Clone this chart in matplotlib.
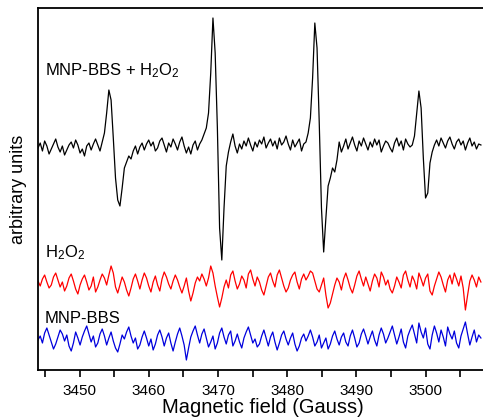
import numpy as np
import matplotlib
matplotlib.use("Agg")
import matplotlib.pyplot as plt
from matplotlib.ticker import MultipleLocator

plt.rcParams['font.family'] = ['Liberation Sans', 'DejaVu Sans']
plt.rcParams['mathtext.fontset'] = 'custom'
plt.rcParams['mathtext.rm'] = 'Liberation Sans'
plt.rcParams['mathtext.it'] = 'Liberation Sans:italic'

# Field axis (Gauss)
field_start = 3444.0
field_step = 0.32

# MNP-BBS + H2O2 (arbitrary units, relative to baseline)
black = [0, 5, -3, 7, 2, -6, -1, 4, 9, 1,
         -4, 2, -7, -2, 3, 6, 0, 8, 3, -5,
         -1, -8, 2, 5, -2, 4, 9, 3, -3, 6,
         15, 35, 58, 48, 10, -30, -52, -58, -40, -20,
         -14, -8, -11, -3, 2, -6, 1, 5, -2, 4,
         8, 2, 6, -3, 0, 7, 10, 3, -4, 5,
         1, 9, 4, -2, 6, 11, 2, -5, 1, -6,
         3, 7, -2, 4, 8, 14, 20, 35, 75, 130,
         95, 20, -80, -112, -60, -18, -4, 6, 14, 2,
         -5, 4, -1, 7, 2, 10, 3, -3, 6, 1,
         8, 4, 11, 0, 5, 9, 2, 7, -1, 10,
         3, 6, 12, 4, -2, 8, 1, 5, 9, -3,
         4, 6, 15, 30, 70, 125, 100, 25, -60, -104,
         -70, -38, -30, -20, -24, -12, 6, -4, 2, 9,
         -1, 5, 11, 3, -3, 7, 2, 10, 4, -2,
         6, 1, 9, 3, 8, -4, 2, 7, 5, 0,
         -4, 5, 10, 2, 7, -2, 9, 4, 1, 3,
         12, 35, 57, 40, -10, -50, -45, -15, -4, 3,
         8, 2, 10, 5, 0, 7, 11, 4, -1, 6,
         9, 3, 7, -2, 5, 10, 2, 6, -1, 4,
         3]

# H2O2
red = [2, -3, 4, 8, 1, -5, -2, 6, 10, 3,
       -4, 1, -8, -3, 5, 9, 2, -6, -11, -2,
       4, 8, 1, -7, -3, 6, -9, -4, 3, 9,
       5, -2, 8, 17, 10, -4, -10, -2, 6, 1,
       -7, -13, -5, 4, 9, 2, -6, 3, 10, 5,
       -3, -9, 1, 7, -2, -8, 4, 11, 6, -1,
       -6, 2, 8, 3, -4, -10, -3, 5, -8, -18,
       -10, 0, 6, 2, 9, 4, -3, 5, 17, 10,
       -3, -14, -24, -15, -4, 3, -5, 8, 12, 2,
       -6, -1, 7, 3, -5, 9, 13, 4, -3, 6,
       1, -7, -12, -3, 6, 10, 2, -4, 8, 13,
       5, -3, -9, -5, 3, 8, 11, 1, -6, 4,
       9, 3, 7, 12, 10, 2, -6, -9, -2, 5,
       -12, -25, -20, -11, -2, 5, 1, -7, 4, 10,
       3, -5, -10, -2, 7, 12, 4, -3, 6, -1,
       -8, 2, 9, 5, -4, 11, 6, -2, 3, -6,
       -10, -3, 6, 1, -5, 8, 12, 3, -4, 7,
       2, -6, 10, 4, -3, 5, 9, -8, -12, -3,
       4, 11, 6, -2, -9, 3, 8, -1, 10, 4,
       -3, 7, -5, -27, -12, 2, 8, 3, -4, 6,
       1]

# MNP-BBS
blue = [0, 4, -3, 7, 12, 5, -2, -9, -4, 3,
        10, 6, -1, 5, -6, -11, -3, 8, 2, -5,
        3, 9, 14, 6, -2, 4, -7, -3, 6, 11,
        4, -5, 2, 8, -1, -8, -12, -4, 5, 1,
        8, 13, 4, -3, 2, -9, -5, 3, 9, 2,
        -6, 1, -10, -4, 5, 10, 3, -6, 2, 7,
        -3, -11, -2, 6, 12, 4, -5, -20, -8, 3,
        9, 14, 5, -3, 6, 11, 2, -7, -2, 4,
        -9, -3, 7, 12, 3, -4, 5, 9, -6, -1,
        6, -2, -8, 2, 8, 13, 5, -3, 1, -7,
        -4, 4, 10, 2, -6, 3, 8, -2, -10, -3,
        5, 9, 1, -5, 2, 7, -4, -11, -6, 2,
        6, -1, 4, 10, 3, -6, -2, 5, -8, -3,
        2, -9, -4, 4, 9, 1, -5, 3, 7, -2,
        -6, 4, 10, 2, -7, -3, 6, 11, 4, -4,
        3, 9, 0, -6, 5, 12, 6, -3, 2, 8,
        14, 5, -4, 3, 11, -2, -8, 4, 10, 15,
        6, -3, 17, 8, 2, 12, -4, -9, 5, 14,
        7, -2, 10, 3, -6, 13, 6, 1, 9, -3,
        -8, 4, 11, 18, 6, -5, 3, 10, -2, 5,
        2]

labels = ["MNP-BBS + H$_2$O$_2$", "H$_2$O$_2$", "MNP-BBS"]
offsets = [222, 87, 30]
colors = ["black", "#ff0000", "#0000dd"]
label_y = [295, 113, 47]

field = field_start + field_step * np.arange(len(black))

fig = plt.figure(figsize=(4.83, 4.19), dpi=100)
ax = fig.add_axes([38 / 483, 1 - 370 / 419, 1 - 38 / 483 + 0.01, (370 - 8) / 419])

for series, off, c in zip([black, red, blue], offsets, colors):
    ax.plot(field, np.array(series) + off, color=c, lw=0.9)

for lab, ly in zip(labels, label_y):
    ax.text(3445.0, ly, lab, fontsize=12, va='baseline', ha='left')

ax.set_xlim(3444, 3509)
ax.set_ylim(0, 362)
ax.set_yticks([])
ax.xaxis.set_major_locator(MultipleLocator(10))
ax.xaxis.set_minor_locator(MultipleLocator(5))
ax.tick_params(axis='x', which='both', direction='out', length=5, width=1.2, labelsize=11, pad=5)
ax.spines['right'].set_visible(False)
for s in ['left', 'top', 'bottom']:
    ax.spines[s].set_linewidth(1.3)
ax.set_xlabel("Magnetic field (Gauss)", fontsize=14.5, labelpad=0)
ax.set_ylabel("arbitrary units", fontsize=13, labelpad=8)

fig.savefig("out.png", dpi=100)
